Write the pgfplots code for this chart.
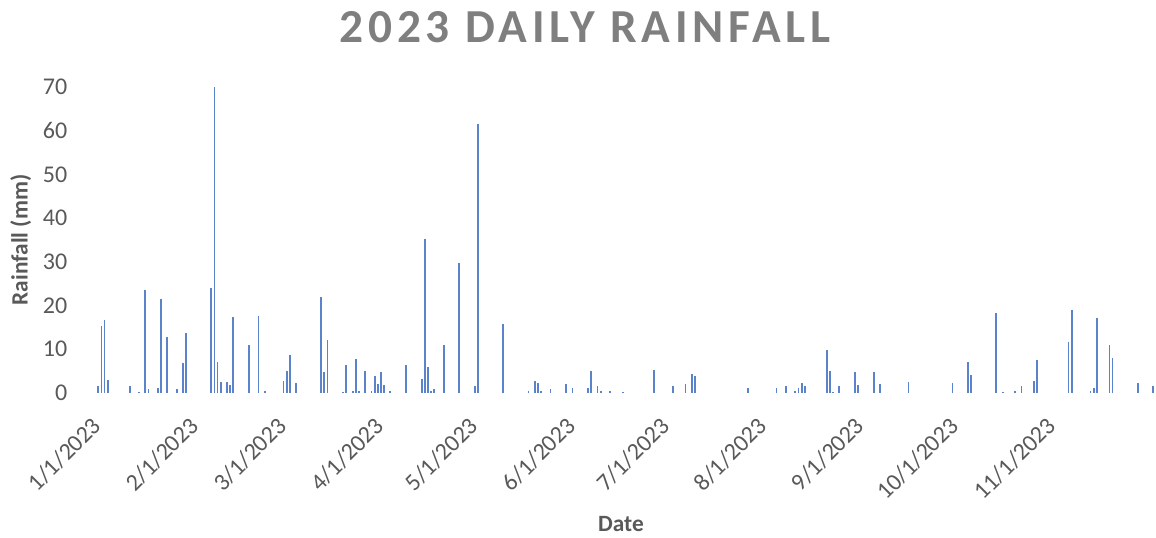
\documentclass[border=0pt]{standalone}
\usepackage{pgfplots}
\pgfplotsset{compat=1.18}
\usepackage{fontspec}
\setmainfont{Carlito}
\definecolor{barblue}{HTML}{4472C4}
\definecolor{txtgray}{HTML}{595959}
\definecolor{titlegray}{HTML}{7F7F7F}
\begin{document}
\begin{tikzpicture}
\useasboundingbox (0,0) rectangle (867pt,403.5pt);
\begin{axis}[
  at={(66pt,108.75pt)}, anchor=south west,
  scale only axis,
  width=799.5pt, height=229.5pt,
  xmin=-0.27, xmax=339.2,
  ymin=0, ymax=70,
  axis line style={draw=none},
  major tick style={draw=none},
  ytick={0,10,...,70},
  xtick={1,32,60,91,121,152,182,213,244,274,305},
  xticklabels={1/1/2023,2/1/2023,3/1/2023,4/1/2023,5/1/2023,6/1/2023,7/1/2023,8/1/2023,9/1/2023,10/1/2023,11/1/2023},
  /pgf/number format/assume math mode=true,
  tick label style={font=\fontsize{18pt}{21pt}\selectfont, text=txtgray},
  yticklabel style={anchor=east, xshift=-12pt},
  xticklabel style={rotate=45, anchor=north east, xshift=-9.2pt, yshift=-7.8pt},
  clip=false,
]
\addplot[ycomb, no marks, draw=barblue!88!white, line width=1.35pt] coordinates {
(3,1.5) (4,15.3) (5,16.7) (6,2.9) (13,1.7) (16,0.3) (18,23.6) (19,0.9)
(22,1.1) (23,21.6) (25,12.9) (28,1.0) (30,6.9) (31,13.8)
(39,24.1) (40,70) (41,7.0) (42,2.6) (44,2.6) (45,1.9) (46,17.3)
(51,11.0) (54,17.5) (56,0.5)
(62,2.8) (63,5.1) (64,8.8) (66,2.3) (74,22.0) (75,4.9) (76,12.1)
(81,0.3) (82,6.4) (84,0.5) (85,7.7) (86,0.5) (88,5.1)
(90,0.4) (91,4.0) (92,2.1) (93,4.8) (94,1.9) (96,0.5) (101,6.5)
(106,3.1) (107,35.2) (108,6.0) (109,0.5) (110,0.9) (113,11.0) (118,29.8)
(123,1.5) (124,61.5) (132,15.7) (140,0.5) (142,2.8) (143,2.3) (144,0.5) (147,0.9)
(152,2.1) (154,1.1) (159,1.1) (160,5.0) (162,1.5) (163,0.5) (166,0.5) (170,0.3)
(180,5.3) (186,1.5) (190,2.1) (192,4.3) (193,3.9)
(210,1.1) (219,1.1) (222,1.6) (225,0.4) (226,1.1) (227,2.3) (228,1.6)
(235,9.9) (236,5.0) (237,0.3) (239,1.5)
(244,4.7) (245,1.8) (250,4.7) (252,2.0) (261,2.6)
(275,2.2) (280,7.2) (281,4.1) (289,18.3) (291,0.3) (295,0.5) (297,1.5)
(301,2.8) (302,7.6) (312,11.6) (313,19.1) (319,0.5) (320,1.1) (321,17.1)
(325,10.9) (326,8.0) (334,2.4) (339,1.5)
};
\end{axis}
\node[font=\fontsize{35.5pt}{40pt}\selectfont\bfseries\addfontfeature{LetterSpace=10}, text=titlegray] at (438.75pt,383.25pt) {2023 DAILY RAINFALL};
\node[rotate=90, font=\fontsize{17.5pt}{20pt}\selectfont\bfseries, text=txtgray] at (15.5pt,223.5pt) {Rainfall (mm)};
\node[font=\fontsize{17.5pt}{20pt}\selectfont\bfseries, text=txtgray] at (465.75pt,10.5pt) {Date};
\end{tikzpicture}
\end{document}
